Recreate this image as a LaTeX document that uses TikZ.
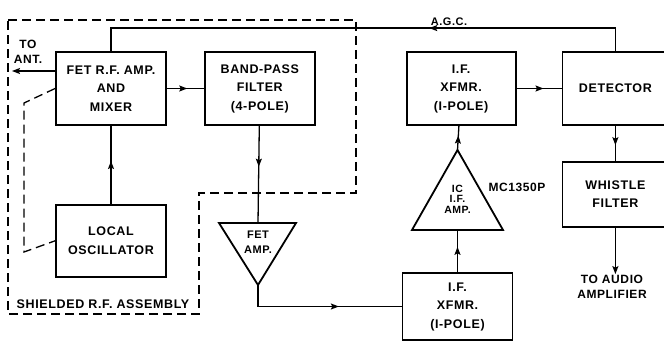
\documentclass[tikz,border=0pt]{standalone}
\usepackage{fontspec}
\setmainfont[LetterSpace=5]{Liberation Sans}
\usetikzlibrary{arrows.meta,positioning,decorations.markings,calc}

\begin{document}
\begin{tikzpicture}[
  x=1pt, y=-1pt,
  node distance=37pt,
  box/.style={rectangle, draw, line width=1.8pt, minimum width=110pt, minimum height=73pt, align=center, inner sep=2pt, font=\fontsize{12.5}{18.5}\selectfont\bfseries},
  lbl/.style={font=\fontsize{12}{15}\selectfont\bfseries, align=center, inner sep=1pt},
  small/.style={font=\fontsize{10.5}{10.5}\selectfont\bfseries, align=center, inner sep=0pt},
  tip/.style={Stealth[length=8pt, width=6pt, inset=1.5pt]},
  arrow/.style={-{Stealth[length=8pt, width=6pt, inset=1.5pt]}, line width=1.3pt},
  mid/.style={line width=1.3pt, decoration={markings, mark=at position #1 with {\arrow{Stealth[length=8pt, width=6pt, inset=1.5pt]}}}, postaction=decorate},
  shield/.style={line width=1.3pt, dash pattern=on 9pt off 5pt},
  amp/.style={line width=1.8pt, line join=miter}
]
  \useasboundingbox (0,0) rectangle (664,342);

  % top row
  \node[box] (fet) at (111,88.5) {FET R.F. AMP.\\AND\\MIXER};
  \node[box, right=37pt of fet] (bpf) {BAND-PASS\\FILTER\\(4-POLE)};
  \node[box, minimum width=109pt, right=90pt of bpf] (ifa) {I.F.\\XFMR.\\(I-POLE)};
  \node[box, minimum width=106pt, right=45pt of ifa] (det) {DETECTOR};
  \node[box, minimum width=106pt, minimum height=65pt, below=35pt of det] (wf) {WHISTLE\\FILTER};
  \node[box, minimum height=72pt, below=78pt of fet] (lo) {LOCAL\\OSCILLATOR};
  \node[box, minimum height=67pt] (ifb) at (457.5,306.5) {I.F.\\XFMR.\\(I-POLE)};

  % amplifiers
  \coordinate (fatop) at (258,223);
  \coordinate (faapex) at (258,285);
  \draw[amp] (219,223) -- (296,223) -- (faapex) -- cycle;
  \node[small, font=\fontsize{11}{15}\selectfont\bfseries] (fetamp) at (258,242) {FET\\AMP.};

  \coordinate (icbase) at (457.5,230);
  \coordinate (icapex) at (457.5,150);
  \draw[amp] (412,230) -- (503,230) -- (icapex) -- cycle;
  \node[small] (icamp) at (457.5,199) {IC\\I.F.\\AMP.};
  \node[lbl] (mc) at (517,187) {MC1350P};

  % labels
  \coordinate (ant) at (12,71);
  \node[lbl] (antlbl) at (28,52) {TO\\ANT.};
  \node[lbl, font=\fontsize{11}{13}\selectfont\bfseries] (agc) at (449,21.5) {A.G.C.};
  \node[lbl] (audio) at (612,287) {TO AUDIO\\AMPLIFIER};
  \node[lbl, font=\fontsize{12.5}{15}\selectfont\bfseries] (shlbl) at (103,304) {SHIELDED R.F. ASSEMBLY};

  % shield
  \draw[shield] (8,20) -- (356,20) -- (356,193) -- (199,193) -- (199,314) -- (8,314) -- cycle;
  \draw[shield] (fet.west) -- (24,103) -- (24,252) -- (lo.west);

  % signal path
  \draw[arrow] (fet.west |- ant) -- (ant);
  \draw[mid=.55] (fet) -- (bpf);
  \draw[mid=.55] (lo) -- (fet);
  \draw[mid=.42] (bpf) -- (fatop);
  \draw[mid=.62] (faapex) |- (ifb);
  \draw[mid=.6] (ifb) -- (icbase);
  \draw[mid=.6] (icapex) -- (ifa);
  \draw[mid=.6] (ifa) -- (det);
  \draw[mid=.55] (det) -- (wf);
  \draw[arrow] (wf) -- (wf.south |- audio.north);
  \draw[mid=.38] (det.north) -- ++(0,-23) -| (fet.north);
\end{tikzpicture}
\end{document}
